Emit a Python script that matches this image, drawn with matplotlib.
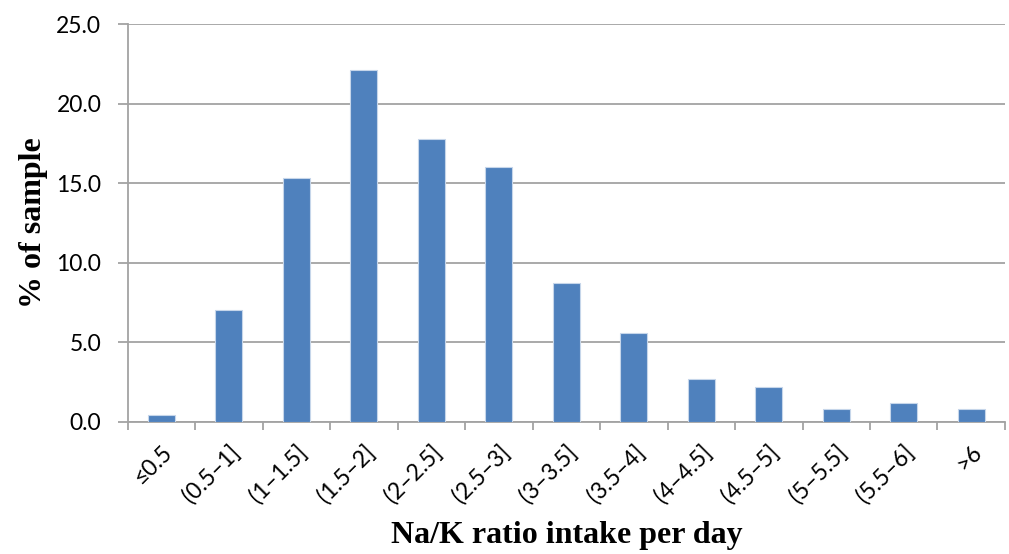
import numpy as np
import matplotlib.pyplot as plt

categorias = ["≤0.5", "(0.5–1]", "(1–1.5]", "(1.5–2]", "(2–2.5]", "(2.5–3]", "(3–3.5]",
              "(3.5–4]", "(4–4.5]", "(4.5–5]", "(5–5.5]", "(5.5–6]", ">6"]
porcentaje = [0.4, 7.0, 15.3, 22.1, 17.8, 16.0, 8.7, 5.6, 2.7, 2.2, 0.8, 1.2, 0.8]
y_ticks = [0.0, 5.0, 10.0, 15.0, 20.0, 25.0]

gris = "#a3a3a3"

fig = plt.figure(figsize=(10.09, 5.54), dpi=100)
ax = fig.add_axes([0.1266, 0.2388, 0.8694, 0.7174])

x = np.arange(len(categorias))
ax.bar(x, porcentaje, width=0.4, color="#4F81BD", edgecolor="#c6d6ea", linewidth=0.8, zorder=3)

ax.set_xlim(-0.5, len(categorias) - 0.5)
ax.set_ylim(0, 25)
ax.set_yticks(y_ticks)
ax.set_yticklabels([f"{v:.1f}" for v in y_ticks], fontfamily="Lato", fontsize=16.5)
ax.yaxis.grid(True, color=gris, linewidth=1.3, zorder=0)

# etiquetas en el centro, marcas en los limites de cada categoria
ax.set_xticks(x)
ax.set_xticklabels(categorias, rotation=45, ha="right", rotation_mode="anchor",
                   fontfamily=["Lato", "DejaVu Sans"], fontsize=16.5)
ax.set_xticks(np.arange(-0.5, len(categorias)), minor=True)
ax.tick_params(axis="x", which="major", length=0, pad=14)
ax.tick_params(axis="x", which="minor", length=6, width=1.3, color=gris)
ax.tick_params(axis="y", length=7, width=1.3, color=gris, pad=12)

for lado in ["top", "right"]:
    ax.spines[lado].set_visible(False)
for lado in ["left", "bottom"]:
    ax.spines[lado].set_color(gris)
    ax.spines[lado].set_linewidth(1.3)

ax.set_ylabel("% of sample", fontfamily="Liberation Serif", fontweight="bold", fontsize=23, labelpad=6)
ax.set_xlabel("Na/K ratio intake per day", fontfamily="Liberation Serif", fontweight="bold", fontsize=23, labelpad=10)

fig.savefig("out.png", dpi=100)
